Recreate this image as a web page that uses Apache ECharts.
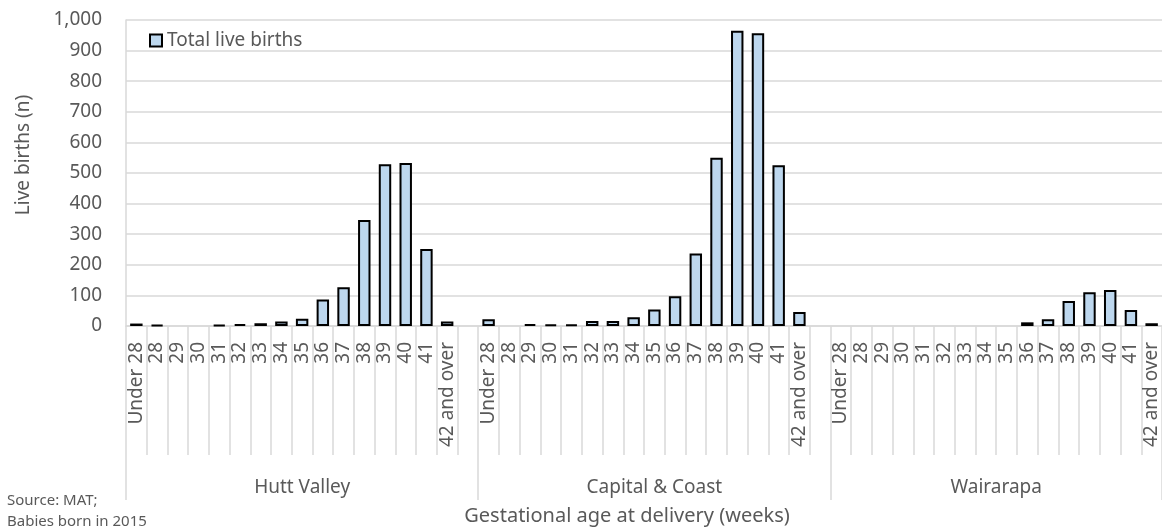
<!DOCTYPE html>
<html>
<head>
<meta charset="utf-8">
<script src="https://cdn.jsdelivr.net/npm/echarts@6/dist/echarts.min.js"></script>
<style>
  html, body { margin: 0; padding: 0; background: #fff; }
  #chart { width: 1162px; height: 527px; }
</style>
</head>
<body>
<div id="chart"></div>
<script>
// ---- data ----
const weeks = ['Under 28', '28', '29', '30', '31', '32', '33', '34', '35', '36', '37', '38', '39', '40', '41', '42 and over'];
const regions = ['Hutt Valley', 'Capital & Coast', 'Wairarapa'];
const huttValley = [8, 4, null, null, 4, 6, 9, 15, 24, 87, 127, 346, 529, 533, 252, 15];
const capitalCoast = [22, null, 6, 5, 5, 16, 16, 29, 54, 97, 237, 550, 965, 957, 525, 46];
const wairarapa = [null, null, null, null, null, null, null, null, null, 12, 22, 82, 110, 118, 52, 9];
const yTicks = [0, 100, 200, 300, 400, 500, 600, 700, 800, 900, 1000];
const seriesName = 'Total live births';
const yTitle = 'Live births (n)';
const xTitle = 'Gestational age at delivery (weeks)';
const sourceNote = ['Source: MAT;', 'Babies born in 2015'];

// ---- build flat category axis (blank spacer between regions) ----
const regionValues = [huttValley, capitalCoast, wairarapa];
const cats = [];
const vals = [];
const groupStarts = [];
const groupCenters = [];
regions.forEach((r, gi) => {
  groupStarts.push(cats.length);
  weeks.forEach((w, wi) => { cats.push(r + '|' + w); vals.push(regionValues[gi][wi]); });
  if (gi < regions.length - 1) { cats.push(r + '|'); vals.push(null); }
});
const total = cats.length;
groupStarts.push(total);
for (let i = 0; i < regions.length; i++) {
  groupCenters.push((groupStarts[i] + groupStarts[i + 1]) / 2);
}

const FONT = 'Noto Sans';
const GREY = '#595959';
const LINE = '#D9D9D9';

const chart = echarts.init(document.getElementById('chart'), null, { renderer: 'canvas' });
chart.setOption({
  animation: false,
  textStyle: { fontFamily: FONT },
  grid: { left: 126, right: 0, top: 20, bottom: 201, containLabel: false },
  legend: {
    show: true,
    data: [seriesName],
    left: 144,
    top: 26,
    icon: 'rect',
    itemWidth: 12,
    itemHeight: 12,
    textStyle: { fontSize: 19, color: GREY, fontFamily: FONT },
    selectedMode: false
  },
  xAxis: [
    {
      type: 'category',
      data: cats,
      position: 'bottom',
      boundaryGap: true,
      axisLine: { show: true, lineStyle: { color: LINE, width: 1.5 } },
      axisTick: { show: true, length: 129, interval: 0, lineStyle: { color: LINE, width: 1.5 } },
      axisLabel: {
        interval: 0,
        rotate: 90,
        margin: 16,
        fontSize: 19,
        color: GREY,
        fontFamily: FONT,
        formatter: v => v.split('|')[1]
      },
      splitLine: { show: false }
    },
    {
      type: 'value',
      min: 0,
      max: total,
      position: 'bottom',
      axisLine: { show: false },
      axisTick: { show: true, customValues: groupStarts, length: 174, lineStyle: { color: LINE, width: 1.5 } },
      axisLabel: {
        show: true,
        customValues: groupCenters,
        margin: 152,
        fontSize: 19,
        color: GREY,
        fontFamily: FONT,
        formatter: v => {
          const i = groupCenters.indexOf(v);
          return i >= 0 ? regions[i] : '';
        }
      },
      splitLine: { show: false }
    }
  ],
  yAxis: {
    type: 'value',
    min: yTicks[0],
    max: yTicks[yTicks.length - 1],
    interval: yTicks[1] - yTicks[0],
    axisLine: { show: true, lineStyle: { color: LINE, width: 1.5 } },
    axisTick: { show: false },
    splitLine: { show: true, lineStyle: { color: LINE, width: 1.5 } },
    axisLabel: {
      margin: 24,
      fontSize: 19,
      color: GREY,
      fontFamily: FONT,
      formatter: v => v.toLocaleString('en-US')
    }
  },
  series: [{
    name: seriesName,
    type: 'bar',
    xAxisIndex: 0,
    data: vals,
    barWidth: '60%',
    itemStyle: { color: '#BDD7EE', borderColor: '#000000', borderWidth: 2 }
  }],
  graphic: [
    {
      type: 'text', x: 24, y: 155, rotation: Math.PI / 2,
      style: { text: yTitle, fontSize: 19, fill: GREY, fontFamily: FONT, align: 'center', verticalAlign: 'middle' }
    },
    {
      type: 'text', x: 627, y: 516,
      style: { text: xTitle, fontSize: 20, fill: GREY, fontFamily: FONT, align: 'center', verticalAlign: 'middle' }
    },
    {
      type: 'text', x: 7, y: 501,
      style: { text: sourceNote[0], fontSize: 15, fill: GREY, fontFamily: FONT, align: 'left', verticalAlign: 'middle' }
    },
    {
      type: 'text', x: 7, y: 522,
      style: { text: sourceNote[1], fontSize: 15, fill: GREY, fontFamily: FONT, align: 'left', verticalAlign: 'middle' }
    }
  ]
});
</script>
</body>
</html>
